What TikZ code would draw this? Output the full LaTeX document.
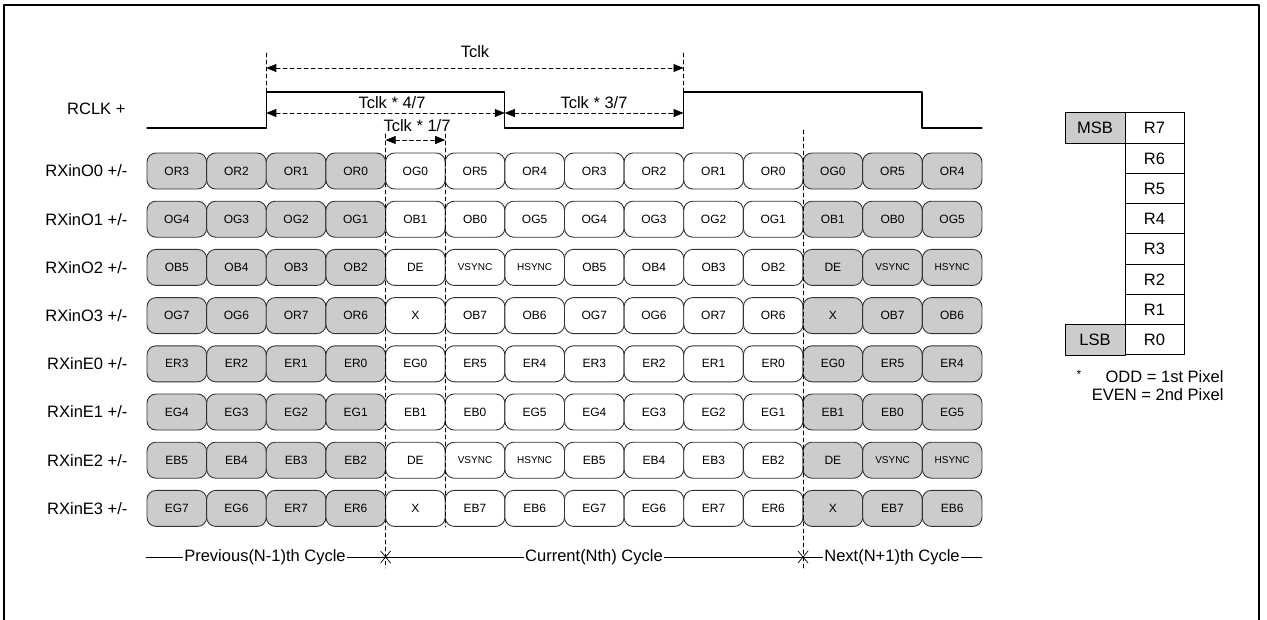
\documentclass[tikz,border=0pt]{standalone}
\usepackage{fontspec}
\setmainfont{Liberation Sans}
\usetikzlibrary{arrows.meta}
\definecolor{cccccc}{rgb}{0.8,0.8,0.8}
\definecolor{qqqqqq}{rgb}{0.2,0.2,0.2}
\newcommand{\syn}[1]{{\fontsize{10}{12}\selectfont #1}}

\begin{document}
\begin{tikzpicture}[line cap=round,line join=round,>={Triangle[length=10pt,width=8pt]},x=1pt,y=-1pt,
	every node/.style={font=\fontsize{16.5}{18}\selectfont},
	cell/.style={draw=qqqqqq,line width=0.9pt,rounded corners=9pt,minimum width=59.64pt,minimum height=36pt,inner sep=0pt,font=\fontsize{12}{14}\selectfont},
	bit/.style={draw,line width=1pt,minimum width=59pt,minimum height=30.25pt,inner sep=0pt},
	guide/.style={line width=0.7pt,dash pattern=on 4pt off 3pt},
	dim/.style={<->,line width=0.7pt,dash pattern=on 4pt off 3pt}]
	\useasboundingbox (0,0) rectangle (1267,619);
	\draw[line width=2pt] (4,625) -- (4,5) -- (1259,5) -- (1259,625);
	\foreach \r/\name/\cells in {
		1/RXinO0/{OR3,OR2,OR1,OR0,OG0,OR5,OR4,OR3,OR2,OR1,OR0,OG0,OR5,OR4},
		2/RXinO1/{OG4,OG3,OG2,OG1,OB1,OB0,OG5,OG4,OG3,OG2,OG1,OB1,OB0,OG5},
		3/RXinO2/{OB5,OB4,OB3,OB2,DE,\syn{VSYNC},\syn{HSYNC},OB5,OB4,OB3,OB2,DE,\syn{VSYNC},\syn{HSYNC}},
		4/RXinO3/{OG7,OG6,OR7,OR6,X,OB7,OB6,OG7,OG6,OR7,OR6,X,OB7,OB6},
		5/RXinE0/{ER3,ER2,ER1,ER0,EG0,ER5,ER4,ER3,ER2,ER1,ER0,EG0,ER5,ER4},
		6/RXinE1/{EG4,EG3,EG2,EG1,EB1,EB0,EG5,EG4,EG3,EG2,EG1,EB1,EB0,EG5},
		7/RXinE2/{EB5,EB4,EB3,EB2,DE,\syn{VSYNC},\syn{HSYNC},EB5,EB4,EB3,EB2,DE,\syn{VSYNC},\syn{HSYNC}},
		8/RXinE3/{EG7,EG6,ER7,ER6,X,EB7,EB6,EG7,EG6,ER7,ER6,X,EB7,EB6}}{
		\node[anchor=east] (l\r) at (131,{171+(\r-1)*48.2}) {\name\ +/-};
		\foreach \t [count=\c] in \cells {
			\ifnum\c<5 \def\fc{cccccc}\else\ifnum\c>11 \def\fc{cccccc}\else\def\fc{white}\fi\fi
			\node[cell,fill=\fc] (c\r-\c) at ({147+(\c-0.5)*59.64},{171+(\r-1)*48.2}) {\t};
		}
	}
	\node[anchor=east] (rclk) at (129,109) {RCLK +};
	\draw[line width=1.2pt] (147,128) -- (266.3,128) -- (266.3,92) -- (504.8,92) -- (504.8,128) -- (683.5,128) -- (683.5,92) -- (922,92) -- (922,128) -- (982,128);
	\draw[guide] (266.3,53) -- (266.3,92);
	\draw[guide] (683.5,53) -- (683.5,92);
	\draw[guide] (385.6,134) -- (385.6,568);
	\draw[guide] (445.2,134) -- (445.2,527);
	\draw[guide] (803,130) -- (803,568);
	\coordinate (t0) at (266.3,68);
	\coordinate (t1) at (683.5,68);
	\coordinate (h0) at (266.3,113);
	\coordinate (h1) at (504.8,113);
	\coordinate (h2) at (683.5,113);
	\coordinate (s0) at (385.6,140);
	\coordinate (s1) at (445.2,140);
	\draw[dim] (t0) -- (t1);
	\draw[dim] (h0) -- (h1);
	\draw[dim] (h1) -- (h2);
	\draw[dim] (s0) -- (s1);
	\node (tclk) at (475,52) {Tclk};
	\node (tfour) at (392,103) {Tclk * 4/7};
	\node (tthree) at (594,103) {Tclk * 3/7};
	\node (tone) at (417,126) {Tclk * 1/7};
	\coordinate (cy0) at (146,557);
	\coordinate (cy1) at (982,557);
	\draw[line width=0.7pt] (cy0) -- (cy1);
	\node[fill=white,inner xsep=1pt,inner ysep=1pt] (prev) at (265,557) {Previous(N-1)th Cycle};
	\node[fill=white,inner xsep=1pt,inner ysep=1pt] (curr) at (594,557) {Current(Nth) Cycle};
	\node[fill=white,inner xsep=1pt,inner ysep=1pt] (next) at (892,557) {Next(N+1)th Cycle};
	\draw[line width=0.7pt] (385.6,557) +(-5,-6) -- +(5,6) +(-5,6) -- +(5,-6);
	\draw[line width=0.7pt] (803,557) +(-5,-6) -- +(5,6) +(-5,6) -- +(5,-6);
	\foreach \b [count=\i from 0] in {7,...,0}
		\node[bit] (b\b) at (1154.5,{128.1+\i*30.25}) {R\b};
	\node[bit,fill=cccccc,minimum width=60pt] (msb) at (1095,128.1) {MSB};
	\node[bit,fill=cccccc,minimum width=60pt] (lsb) at (1095,339.9) {LSB};
	\node (star) at (1079,374) {\fontsize{12}{14}\selectfont *};
	\node[anchor=east,align=right] (note) at (1227,386) {ODD = 1st Pixel\\EVEN = 2nd Pixel};
\end{tikzpicture}
\end{document}
